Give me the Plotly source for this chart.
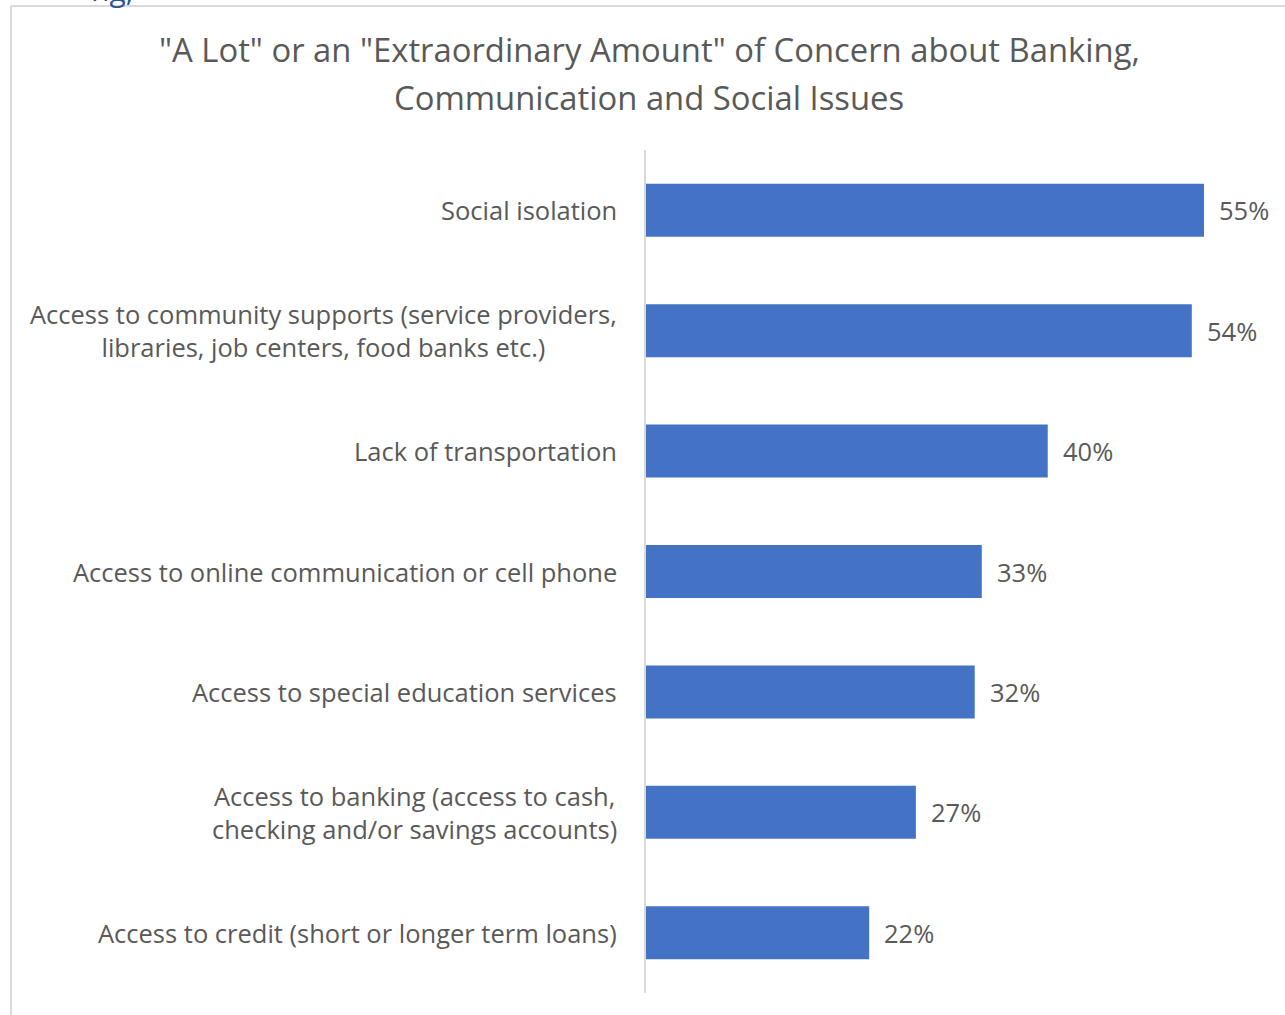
import plotly.graph_objects as go

categories = [
    "Social isolation",
    "Access to community supports (service providers,<br>libraries, job centers, food banks etc.)",
    "Lack of transportation",
    "Access to online communication or cell phone",
    "Access to special education services",
    "Access to banking (access to cash,<br>checking and/or savings accounts)",
    "Access to credit (short or longer term loans)",
]
values = [55.0, 53.8, 39.6, 33.1, 32.4, 26.6, 22.0]
value_labels = ["55%", "54%", "40%", "33%", "32%", "27%", "22%"]
title_lines = [
    '"A Lot" or an "Extraordinary Amount" of Concern about Banking,',
    "Communication and Social Issues",
]

FONT = "'Open Sans', Lato, sans-serif"
TXT = "#595959"
W, H = 1285, 1015
L, R, T, B = 646, 30, 150, 22
pw = W - L - R
ph = H - T - B
LBL = 25.5
TTL = 32.8

fig = go.Figure()
fig.add_trace(go.Bar(
    x=values, y=categories, orientation="h",
    marker=dict(color="#4472C4", line=dict(width=0)),
    width=0.44,
    hoverinfo="skip",
))

annotations = []
for c in categories:
    annotations.append(dict(
        x=(619 - L) / pw, xref="paper", y=c, yref="y",
        text=c, showarrow=False, xanchor="right", align="center",
        font=dict(family=FONT, size=LBL, color=TXT),
    ))
for c, v, t in zip(categories, values, value_labels):
    annotations.append(dict(
        x=v, xref="x", y=c, yref="y", text=t, showarrow=False,
        xanchor="left", xshift=13,
        font=dict(family=FONT, size=LBL, color=TXT),
    ))
annotations.append(dict(x=(649 - L) / pw, xref="paper", y=1 + (T - 50) / ph,
                        yref="paper", text=title_lines[0], showarrow=False, xanchor="center", yanchor="middle",
                        font=dict(family=FONT, size=TTL, color=TXT)))
annotations.append(dict(x=(649 - L) / pw, xref="paper", y=1 + (T - 97) / ph,
                        yref="paper", text=title_lines[1], showarrow=False, xanchor="center", yanchor="middle",
                        font=dict(family=FONT, size=TTL, color=TXT)))
annotations.append(dict(x=(112 - L) / pw, xref="paper", y=1 + (T - (-10)) / ph, yref="paper",
                        text="ng,", showarrow=False, xanchor="center", yanchor="middle",
                        font=dict(family=FONT, size=30, color="#2F5597")))

shapes = [
    dict(type="line", xref="paper", yref="paper",
         x0=(11 - L) / pw, x1=(11 - L) / pw, y0=1 + (T - 6) / ph, y1=-(B + 20) / ph,
         line=dict(color="#D9D9D9", width=2)),
    dict(type="line", xref="paper", yref="paper",
         x0=(11 - L) / pw, x1=(W + 20 - L) / pw, y0=1 + (T - 6) / ph, y1=1 + (T - 6) / ph,
         line=dict(color="#D9D9D9", width=2)),
]

fig.update_layout(
    width=W, height=H,
    margin=dict(l=L, r=R, t=T, b=B, pad=0),
    paper_bgcolor="white", plot_bgcolor="white",
    showlegend=False,
    xaxis=dict(range=[0, pw / 10.145], showgrid=False, zeroline=False, showticklabels=False,
               showline=False, ticks="", fixedrange=True),
    yaxis=dict(autorange="reversed", showgrid=False, zeroline=False, showticklabels=False,
               showline=True, linecolor="#D9D9D9", linewidth=2, ticks="", fixedrange=True),
    annotations=annotations,
    shapes=shapes,
)

fig.write_html("out.html")
